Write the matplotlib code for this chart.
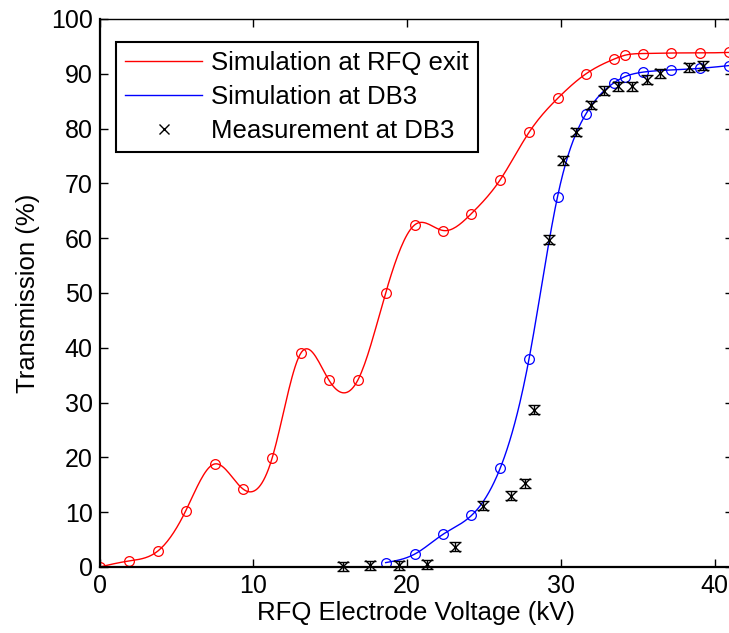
import matplotlib
matplotlib.use("Agg")
import matplotlib.pyplot as plt
from matplotlib.lines import Line2D
import numpy as np

plt.rcParams['font.family'] = ['Liberation Sans', 'DejaVu Sans']

# simulated transmission vs. RFQ voltage
sim_voltage = [0.0, 1.91, 3.79, 5.60, 7.48, 9.35, 11.23, 13.11, 14.92, 16.80,
               18.61, 20.53, 22.36, 24.19, 26.07, 27.93, 29.79, 31.64, 33.48,
               34.19, 35.33, 37.20, 39.08, 40.94]
rfq_exit = [0.0, 1.1, 2.9, 10.2, 18.8, 14.2, 19.9, 39.1, 34.1, 34.1,
            50.0, 62.5, 61.4, 64.5, 70.7, 79.3, 85.5, 90.0, 92.7,
            93.4, 93.7, 93.8, 93.8, 93.9]
db3_voltage = sim_voltage[10:]
db3_sim = [0.8, 2.4, 6.0, 9.4, 18.1, 37.9, 67.6, 82.7, 88.4,
           89.5, 90.3, 90.7, 91.0, 91.5]

# measured transmission at DB3
meas_voltage = [15.83, 17.62, 19.45, 21.28, 23.12, 24.95, 26.77, 27.66, 28.27,
                29.22, 30.15, 31.00, 31.96, 32.83, 33.73, 34.61, 35.59, 36.45,
                38.37, 39.24]
meas_db3 = [0.1, 0.3, 0.3, 0.5, 3.7, 11.2, 13.0, 15.3, 28.7,
            59.7, 74.2, 79.4, 84.3, 86.9, 87.7, 87.7, 88.9, 90.1,
            91.2, 91.5]
meas_err = 0.8


def spline(x, y, n=400):
    # natural cubic spline through the given points
    x = np.asarray(x, float)
    y = np.asarray(y, float)
    h = np.diff(x)
    m = len(x)
    A = np.zeros((m, m))
    b = np.zeros(m)
    A[0, 0] = A[-1, -1] = 1.0
    for i in range(1, m - 1):
        A[i, i - 1] = h[i - 1]
        A[i, i] = 2 * (h[i - 1] + h[i])
        A[i, i + 1] = h[i]
        b[i] = 6 * ((y[i + 1] - y[i]) / h[i] - (y[i] - y[i - 1]) / h[i - 1])
    M = np.linalg.solve(A, b)
    xs = np.linspace(x[0], x[-1], n)
    k = np.clip(np.searchsorted(x, xs) - 1, 0, m - 2)
    t0 = xs - x[k]
    t1 = x[k + 1] - xs
    hk = h[k]
    ys = (M[k] * t1 ** 3 + M[k + 1] * t0 ** 3) / (6 * hk) \
        + (y[k] / hk - M[k] * hk / 6) * t1 + (y[k + 1] / hk - M[k + 1] * hk / 6) * t0
    return xs, ys


fig = plt.figure(figsize=(7.29, 6.33), dpi=100)
ax = fig.add_axes([99.5 / 729, 66 / 633, 633.5 / 729, 548 / 633])

xs, ys = spline(sim_voltage, rfq_exit)
ax.plot(xs, ys, color='red', lw=1.0)
ax.plot(sim_voltage, rfq_exit, 'o', mfc='none', mec='red', ms=7, mew=0.9)

xs, ys = spline(db3_voltage, db3_sim)
ax.plot(xs, ys, color='blue', lw=1.0)
ax.plot(db3_voltage, db3_sim, 'o', mfc='none', mec='blue', ms=7, mew=0.9)

ax.errorbar(meas_voltage, meas_db3, yerr=meas_err, fmt='x', color='black',
            ms=7.5, mew=1.0, elinewidth=1.0, capsize=4, capthick=1.0,
            clip_on=False, zorder=5)

ax.set_xlim(0, 41.2)
ax.set_ylim(0, 100)
ax.set_xticks([0, 10, 20, 30, 40])
ax.set_yticks(range(0, 101, 10))
ax.tick_params(direction='in', length=6, width=1.0, labelsize=18,
               top=True, right=True, pad=5)
for side in ['left', 'bottom']:
    ax.spines[side].set_linewidth(1.6)
for side in ['top', 'right']:
    ax.spines[side].set_linewidth(1.0)

ax.set_xlabel('RFQ Electrode Voltage (kV)', fontsize=18.5, labelpad=2)
ax.set_ylabel('Transmission (%)', fontsize=18.5, labelpad=8)

handles = [
    Line2D([], [], color='red', lw=1.0),
    Line2D([], [], color='blue', lw=1.0),
    Line2D([], [], color='black', marker='x', ls='none', ms=7.5, mew=1.0),
]
labels = ['Simulation at RFQ exit', 'Simulation at DB3', 'Measurement at DB3']
leg = ax.legend(handles, labels, loc='upper left', bbox_to_anchor=(0.026, 0.958),
                borderaxespad=0, fontsize=18.5, fancybox=False, framealpha=1,
                edgecolor='black', handlelength=3.0, handletextpad=0.35,
                labelspacing=0.38, borderpad=0.35)
leg.get_frame().set_linewidth(1.5)

fig.savefig('out.png', dpi=100)
